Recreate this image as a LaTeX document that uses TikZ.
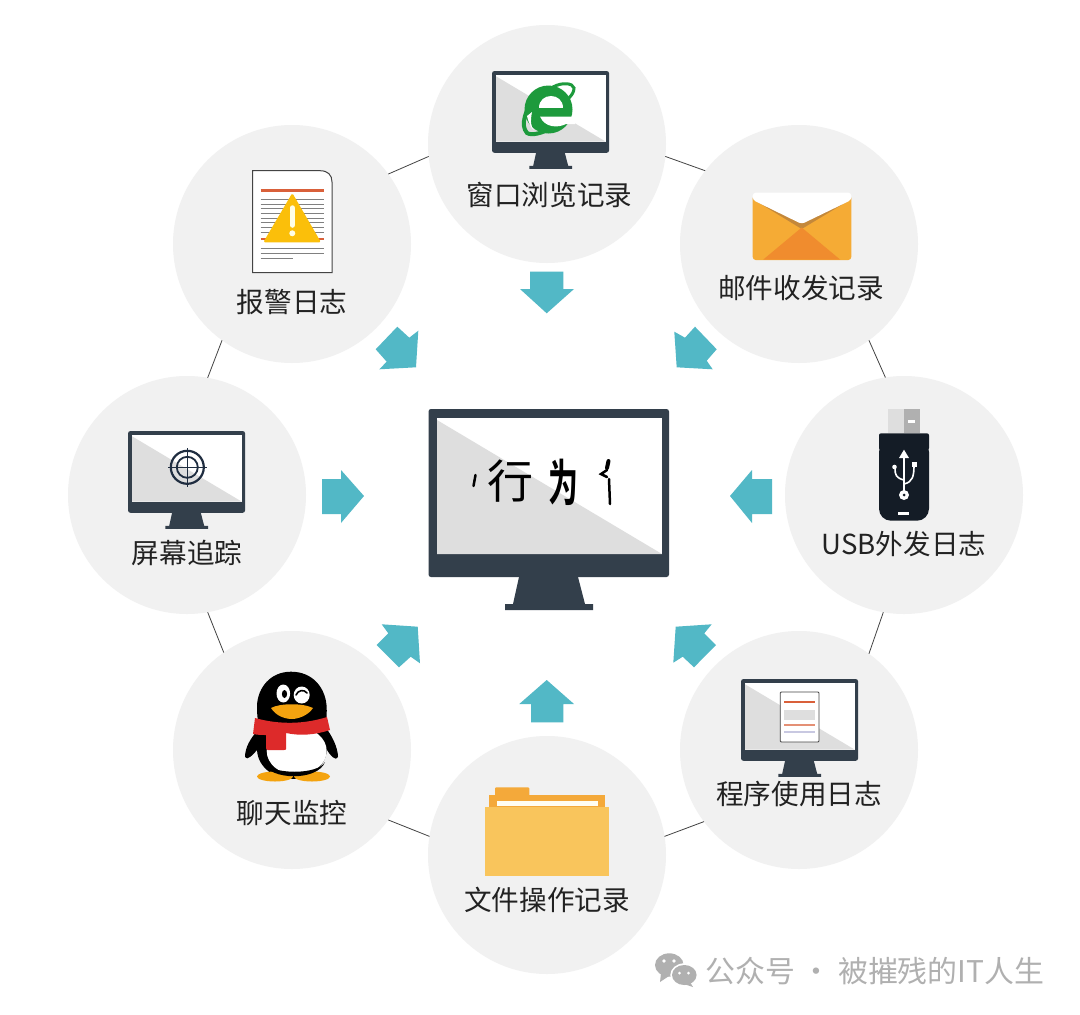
\documentclass[tikz,border=0pt]{standalone}
\usepackage{fontspec}
\setmainfont{Noto Sans CJK SC}
\newfontfamily\cjkbold[BoldFont={Noto Sans CJK SC Bold}]{Noto Sans CJK SC}
\definecolor{bubble}{HTML}{F1F1F1}
\definecolor{arrowteal}{HTML}{52B8C6}
\definecolor{bezel}{HTML}{333F4B}
\definecolor{screengrey}{HTML}{DEDEDE}
\definecolor{linkgrey}{HTML}{444444}
\definecolor{labelink}{HTML}{222222}
\definecolor{iegreen}{HTML}{1D9A3C}
\definecolor{alertred}{HTML}{D9603A}
\definecolor{alertyellow}{HTML}{FBBF0A}
\definecolor{envbody}{HTML}{F5AB35}
\definecolor{envdark}{HTML}{F08C2E}
\definecolor{envshade}{HTML}{C4883A}
\definecolor{usbdark}{HTML}{141C26}
\definecolor{scarfred}{HTML}{DD2A2A}
\definecolor{beakorange}{HTML}{F4A30F}
\definecolor{folderback}{HTML}{F4A93A}
\definecolor{folderfront}{HTML}{F9C55C}
\definecolor{targetblue}{HTML}{1F2D40}
\definecolor{markgrey}{HTML}{B0B0B0}
\tikzset{
  circ/.style={circle,fill=bubble,minimum size=238pt,inner sep=0pt,outer sep=0pt},
  linkline/.style={draw=linkgrey,line width=0.8pt},
  lab/.style={text=labelink,inner sep=0pt,font=\fontsize{27.6}{27.6}\selectfont},
  flow/.style={fill=arrowteal},
  pics/monitor/.style={code={
    \fill[bezel,rounded corners=2.5pt] (0,0) rectangle (240.5,168);
    \fill[white] (8.5,9) rectangle (233.5,145);
    \fill[screengrey] (8.5,11) -- (233.5,145) -- (8.5,145) -- cycle;
    \fill[bezel] (90.5,168) -- (149.5,168) -- (156.5,195) -- (164.5,195) -- (164.5,201) -- (76.5,201) -- (76.5,195) -- (84.5,195) -- cycle;
  }}
}
\begin{document}
\begin{tikzpicture}[x=1pt,y=-1pt]
\useasboundingbox[fill=white] (0,0) rectangle (1080,1015);
% circles
\node[circ] (ctop) at (547,144) {};
\node[circ] (ctr) at (799,244) {};
\node[circ] (cright) at (904,495) {};
\node[circ] (cbr) at (799,750) {};
\node[circ] (cbottom) at (547,855) {};
\node[circ] (cbl) at (292,750) {};
\node[circ] (cleft) at (187,495) {};
\node[circ] (ctl) at (292,244) {};
% ring connectors
\draw[linkline] (ctop.-6.2) -- (ctr.142.6);
\draw[linkline] (ctr.-54.8) -- (cright.99.6);
\draw[linkline] (cright.260.4) -- (cbr.54.8);
\draw[linkline] (cbr.217.7) -- (cbottom.9);
\draw[linkline] (cbottom.171) -- (cbl.-36.3);
\draw[linkline] (cbl.125.5) -- (cleft.-80.4);
\draw[linkline] (cleft.80.4) -- (ctl.234.5);
\draw[linkline] (ctl.36) -- (ctop.186.2);
% flow arrows
\fill[flow] (530,271.7) -- (563.3,271.7) -- (563.3,289) -- (574,289) -- (546.7,313.3) -- (520,289) -- (530,289) -- cycle;
\fill[flow] (531,722.3) -- (563.3,722.3) -- (563.3,704) -- (574,704) -- (546.7,680) -- (519.3,704) -- (531,704) -- cycle;
\fill[flow] (322,479) -- (341,479) -- (341,470) -- (364,496) -- (341,523) -- (341,514) -- (322,514) -- cycle;
\fill[flow] (772,479) -- (752,479) -- (752,470) -- (730,496) -- (752,523) -- (752,514) -- (772,514) -- cycle;
\fill[flow] (397.3,326.7) -- (409.3,337.7) -- (418.3,330.7) -- (416,367.3) -- (379.3,369.3) -- (386.7,361.7) -- (375.7,349.3) -- cycle;
\fill[flow] (695,326.7) -- (685,337.7) -- (674.3,331.7) -- (676.7,367.3) -- (712.7,369.3) -- (706.7,360.7) -- (716.7,349.3) -- cycle;
\fill[flow] (381.7,624.3) -- (417.7,626.7) -- (420,663.3) -- (410.7,656.7) -- (399,667.3) -- (376.7,645) -- (388.3,633.3) -- cycle;
\fill[flow] (711.7,624.3) -- (675.7,626.7) -- (673.3,662.7) -- (682.7,656.7) -- (694,667.3) -- (716,645) -- (704.3,633.3) -- cycle;
% central monitor
\pic at (428.5,409) {monitor};
\node[inner sep=0pt,text=black,font=\fontsize{46}{46}\selectfont] (ctxt) at (510,481) {行};
\node[inner sep=0pt,text=black,xscale=.6,font=\cjkbold\bfseries\fontsize{50}{50}\selectfont] (ctxtb) at (563,482) {为};
\draw[black,line width=2.5pt,line cap=round] (475.5,475) -- (473.5,486);
\draw[black,line width=4pt,line cap=round] (608.5,461) -- (607,468);
\draw[black,line width=2.5pt,line cap=round] (607,470) -- (601,474) -- (607,477);
\draw[black,line width=2.5pt,line cap=round] (609,479) -- (610,504);
% small monitors
\pic[scale=.487] at (492,71) {monitor};
\pic[scale=.487] at (128,431) {monitor};
\pic[scale=.487] at (741,679) {monitor};
% IE logo
\begin{scope}
\draw[iegreen,line width=3pt,line cap=round] (553,87) .. controls (562,82) and (573,83) .. (574,88) .. controls (574,92) and (572,95) .. (568,99);
\fill[iegreen] (548.5,109.5) circle [radius=24];
\draw[iegreen,line width=4pt,line cap=round] (537,94) .. controls (525,110) and (520,125) .. (527,133) .. controls (532,136) and (542,133) .. (552,128);
\fill[white] (527,116) .. controls (529,124) and (531,128) .. (534,130) .. controls (531,127) and (530,122) .. (532,112) -- cycle;
\fill[white] (539,108) .. controls (539,92) and (563,92) .. (563,108) -- cycle;
\fill[white] (540,116.5) -- (575,116.5) -- (575,124) -- (566,124) .. controls (558,128) and (545,128) .. (540,116.5) -- cycle;
\end{scope}
% alert document
\draw[linkgrey,fill=white,line width=1pt] (252.7,170.7) -- (320,170.7) .. controls (328,170.7) and (332,175) .. (332,182) -- (332,272.7) -- (252.7,272.7) -- cycle;
\foreach \yy in {199.3,204,208.7,213.4,218,222.7,227.4,232}{
  \draw[gray,line width=.8pt] (260.7,\yy) -- (324,\yy);
}
\foreach \yy in {248.3,253.3}{
  \draw[gray,line width=.8pt] (260.7,\yy) -- (324,\yy);
}
\draw[gray,line width=.7pt] (260.7,258.3) -- (292.7,258.3);
\draw[alertred,line width=3pt] (260.7,190) -- (324,190);
\draw[alertred,line width=2pt] (260.7,239.3) -- (324,239.3);
\fill[alertyellow,rounded corners=1.5pt] (292.3,193) -- (321,242.3) -- (263.3,242.3) -- cycle;
\draw[white!90!yellow,line width=5.5pt,line cap=round] (292.3,208) -- (292.3,225);
\fill[white!90!yellow] (292.3,233.3) circle [radius=3];
% envelope
\fill[envbody,rounded corners=3pt] (752.7,195) rectangle (851.3,260);
\fill[envshade] (752.7,199) -- (801.7,229) -- (851.3,199) -- cycle;
\fill[envdark] (763.3,259.5) -- (801.7,227.5) -- (840,259.5) -- cycle;
\fill[white,rounded corners=3pt] (752.7,200) -- (752.7,192.7) -- (851.3,192.7) -- (851.3,200) -- (801.7,224) -- cycle;
% usb stick
\fill[screengrey] (887.7,409.3) rectangle (904,432.7);
\fill[markgrey] (904,409.3) rectangle (920,432.7);
\fill[white] (908.3,420) rectangle (915,422.7);
\fill[usbdark,rounded corners=2pt] (879,433.3) -- (929,433.3) -- (929,450) -- (879,450) -- cycle;
\fill[usbdark,rounded corners=12pt] (879,440) -- (929,440) -- (929,520.7) -- (879,520.7) -- cycle;
\draw[white,line width=1.6pt] (904,456) -- (904,493);
\fill[white] (904,449.7) -- (909,458) -- (899,458) -- cycle;
\draw[white,line width=1.6pt] (904,480) .. controls (896,478) and (895,475) .. (895,468);
\draw[white,line width=1.6pt] (904,484) .. controls (913,482) and (914,476) .. (914,464);
\fill[white] (894.5,467) circle [radius=2.3];
\fill[white] (911.5,461.5) rectangle (916.5,466.5);
\fill[white] (904,495) circle [radius=5];
\fill[usbdark] (904,495) circle [radius=1.5];
\fill[white] (898.3,511.7) rectangle (909.3,515);
% target
\draw[targetblue,line width=2.2pt] (187.3,467.3) circle [radius=16.5];
\draw[targetblue,line width=1.8pt] (187.3,467.3) circle [radius=10.5];
\draw[targetblue,line width=1.2pt] (168,467.3) -- (206.6,467.3);
\draw[targetblue,line width=1.2pt] (187.3,448) -- (187.3,486.6);
% document on program monitor
\fill[white,draw=linkgrey,line width=.8pt,rounded corners=1pt] (780.3,692) rectangle (819,742);
\draw[alertred,line width=2.2pt] (784.3,701.7) -- (815,701.7);
\fill[screengrey] (784.3,710) rectangle (815,720);
\draw[alertred!70!white,line width=2.4pt] (784.3,725) -- (815,725);
\draw[blue!10!screengrey,line width=2pt] (784.3,731.7) -- (815,731.7);
% penguin
\fill[black] (291,671.7) .. controls (270,671.7) and (258,688) .. (257,705) .. controls (257,718) and (258,722) .. (260,728) .. controls (250,738) and (245,748) .. (245,757) .. controls (247,761) and (253,755) .. (257,750) .. controls (258,768) and (275,779) .. (292,779) .. controls (310,779) and (325,768) .. (327,750) .. controls (330,755) and (336,762) .. (338,757) .. controls (338,748) and (332,735) .. (325,727) .. controls (327,720) and (327,712) .. (326.5,705) .. controls (325,688) and (313,671.7) .. (291,671.7) -- cycle;
\fill[white] (296.7,751) ellipse [x radius=30,y radius=24];
\fill[beakorange] (275,776.5) ellipse [x radius=18,y radius=5];
\fill[beakorange] (312,776.5) ellipse [x radius=18,y radius=5];
\fill[black] (262,762) .. controls (270,781) and (318,781) .. (325,762) .. controls (318,775) and (272,775) .. (262,762) -- cycle;
\fill[scarfred] (255,718) .. controls (280,725) and (305,724) .. (327,717) -- (330,730) .. controls (315,735) and (300,736) .. (286,733) -- (286,749) .. controls (286,750) and (285,750) .. (284,750) -- (268,750) .. controls (267,750) and (266,749) .. (266,748) -- (266,735) .. controls (262,735) and (258,735) .. (253,734) -- cycle;
\fill[beakorange] (271,708) .. controls (280,703) and (303,703) .. (313,708) .. controls (308,716) and (297,719) .. (292,719) .. controls (285,719) and (276,716) .. (271,708) -- cycle;
\fill[white] (283.3,693.5) ellipse [x radius=6.8,y radius=9];
\fill[black] (284.5,694) ellipse [x radius=2.6,y radius=4];
\fill[white] (301.7,695) ellipse [x radius=8,y radius=8.5];
\draw[black,line width=1.6pt,line cap=round] (296,695) .. controls (298,690) and (304,689) .. (307,693);
% folder
\fill[folderback,rounded corners=1pt] (495,787.3) rectangle (529.3,800);
\fill[folderback] (489.3,795.3) rectangle (605,810);
\fill[white!95!yellow] (496.7,800.7) rectangle (597.7,806);
\fill[folderfront] (485.3,806.7) rectangle (609.3,876);
% labels
\node[lab] (ltop) at (549.5,195) {窗口浏览记录};
\node[lab] (ltr) at (801,288) {邮件收发记录};
\node[lab] (lright) at (904,544) {USB外发日志};
\node[lab] (lbr) at (799,794) {程序使用日志};
\node[lab] (lbottom) at (547,900) {文件操作记录};
\node[lab] (lbl) at (292,813) {聊天监控};
\node[lab] (lleft) at (187,553) {屏幕追踪};
\node[lab] (ltl) at (292,302) {报警日志};
% watermark
\fill[markgrey] (669.3,965) ellipse [x radius=14.3,y radius=11.7];
\fill[markgrey] (661,973) -- (660,982) -- (669,976) -- cycle;
\fill[white] (684.3,975) ellipse [x radius=14,y radius=11.7];
\fill[markgrey] (684.3,975) ellipse [x radius=12.3,y radius=10];
\fill[markgrey] (690,982) -- (693,987) -- (684,984) -- cycle;
\fill[white] (664,961) circle [radius=1.8];
\fill[white] (674,961) circle [radius=1.8];
\fill[white] (679.5,973) circle [radius=1.5];
\fill[white] (688.5,973) circle [radius=1.5];
\node[inner sep=0pt,anchor=west,text=markgrey,font=\fontsize{29.9}{29.9}\selectfont] (mark) at (705,971) {公众号 · 被摧残的IT人生};
\end{tikzpicture}
\end{document}
